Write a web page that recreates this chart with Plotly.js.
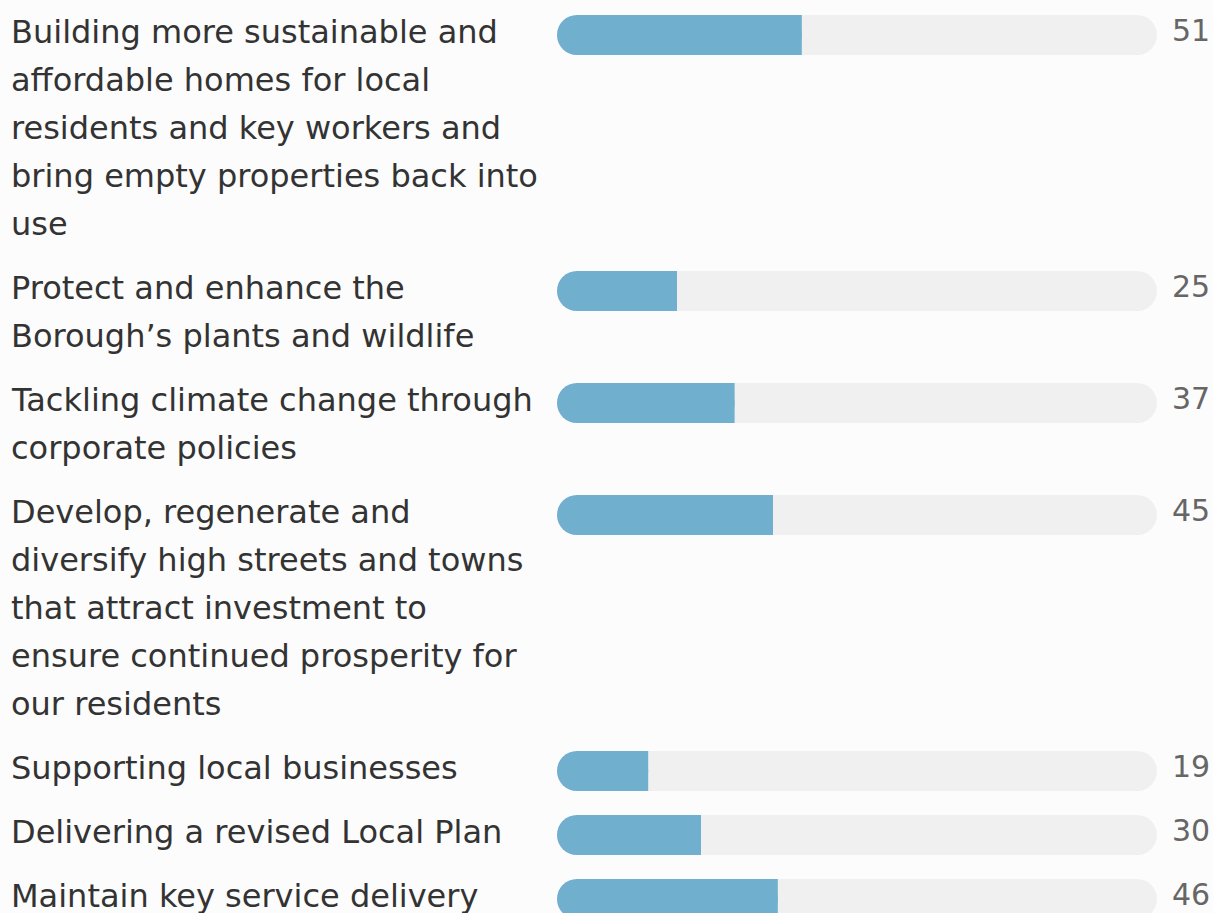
<!DOCTYPE html>
<html>
<head>
<meta charset="utf-8">
<script src="https://cdn.plot.ly/plotly-3.0.1.min.js"></script>
<style>
  html, body { margin: 0; padding: 0; background: #fcfcfc; }
  #chart { width: 1213px; height: 913px; }
</style>
</head>
<body>
<div id="chart"></div>
<script>
// ---- data ----
const CATEGORIES = [
  "Building more sustainable and<br>affordable homes for local<br>residents and key workers and<br>bring empty properties back into<br>use",
  "Protect and enhance the<br>Borough’s plants and wildlife",
  "Tackling climate change through<br>corporate policies",
  "Develop, regenerate and<br>diversify high streets and towns<br>that attract investment to<br>ensure continued prosperity for<br>our residents",
  "Supporting local businesses",
  "Delivering a revised Local Plan",
  "Maintain key service delivery"
];
const VALUES = [51, 25, 37, 45, 19, 30, 46];
const TOTAL = 125;

// ---- layout constants (pixels) ----
const W = 1213, H = 913;
const LINE = 48, GAP = 16;
const BAR_H = 40, RADIUS = 20;
const TRACK_X0 = 557, TRACK_X1 = 1157;
const R_UNITS = RADIUS * TOTAL / (TRACK_X1 - TRACK_X0);

const lines = CATEGORIES.map(c => c.split("<br>"));
const rowTops = [];
let acc = 0;
lines.forEach(l => { rowTops.push(acc); acc += l.length * LINE + GAP; });
const barY = rowTops.map(t => t + 35);

const traces = [
  { // grey track, rounded at both ends (explicit base)
    type: "bar", orientation: "h", y: barY, opacity: 1,
    base: VALUES.map(() => 0), x: VALUES.map(() => TOTAL),
    width: BAR_H, marker: { color: "#f0f0f0", opacity: 1, cornerradius: RADIUS, line: { width: 0 } },
    hoverinfo: "skip", showlegend: false
  },
  { // value bar, rounded at both ends
    type: "bar", orientation: "h", y: barY, opacity: 1,
    base: VALUES.map(() => 0), x: VALUES,
    width: BAR_H, marker: { color: "#71afcf", opacity: 1, cornerradius: RADIUS, line: { width: 0 } },
    hoverinfo: "skip", showlegend: false
  },
  { // square cap so the value end is flat
    type: "bar", orientation: "h", y: barY, opacity: 1,
    base: VALUES.map(v => v - 2 * R_UNITS), x: VALUES.map(() => 2 * R_UNITS),
    width: BAR_H, marker: { color: "#71afcf", opacity: 1, line: { width: 0 } },
    hoverinfo: "skip", showlegend: false
  }
];

const annotations = [];
lines.forEach((ls, i) => {
  ls.forEach((txt, j) => {
    annotations.push({
      xref: "paper", yref: "y", x: 9 / W, y: rowTops[i] + 32.2 + j * LINE,
      xanchor: "left", yanchor: "middle", showarrow: false, align: "left",
      text: txt, font: { family: "DejaVu Sans", size: 32, color: "#333333" }
    });
  });
  annotations.push({
    xref: "paper", yref: "y", x: 1212 / W, y: rowTops[i] + 30.9,
    xanchor: "right", yanchor: "middle", showarrow: false,
    text: String(VALUES[i]), font: { family: "DejaVu Sans", size: 30, color: "#666666" }
  });
});

const layout = {
  width: W, height: H,
  margin: { l: 0, r: 0, t: 0, b: 0, pad: 0 },
  paper_bgcolor: "#fcfcfc", plot_bgcolor: "rgba(0,0,0,0)",
  barmode: "overlay", showlegend: false, hovermode: false,
  xaxis: { domain: [TRACK_X0 / W, TRACK_X1 / W], range: [0, TOTAL], visible: false, fixedrange: true },
  yaxis: { domain: [0, 1], range: [H, 0], visible: false, fixedrange: true },
  annotations: annotations
};

Plotly.newPlot("chart", traces, layout, { displayModeBar: false, staticPlot: true });
</script>
</body>
</html>
